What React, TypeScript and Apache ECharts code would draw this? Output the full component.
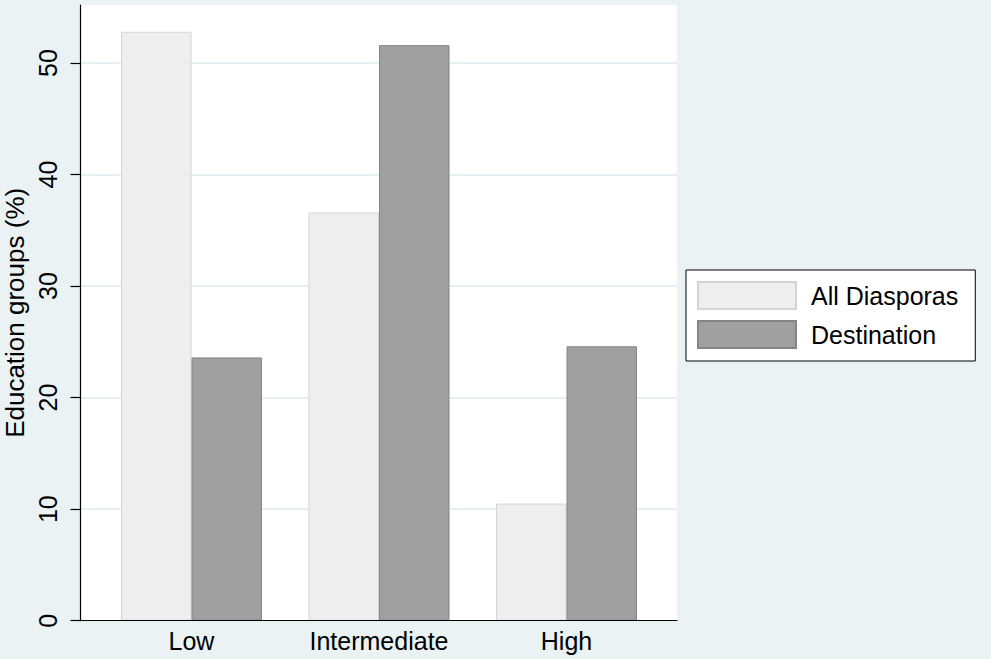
import React, { useEffect, useRef } from "react";
import * as echarts from "echarts";

const categories = ["Low", "Intermediate", "High"];
const allDiasporas = [52.8, 36.6, 10.5];
const destination = [23.6, 51.6, 24.6];
const yTicks = [0, 10, 20, 30, 40, 50];
const yMax = 55.2;
const seriesNames = ["All Diasporas", "Destination"];

const FONT = "'Liberation Sans', Arial, sans-serif";

export default function App() {
  const ref = useRef<HTMLDivElement>(null);
  useEffect(() => {
    if (!ref.current) return;
    const chart = echarts.init(ref.current, undefined, { renderer: "svg" });
    chart.setOption({
      animation: false,
      backgroundColor: "#eaf2f3",
      textStyle: { fontFamily: FONT },
      grid: [
        {
          left: 80.5,
          right: 314,
          top: 5,
          bottom: 38.3,
          show: true,
          backgroundColor: "#ffffff",
          borderWidth: 0,
          containLabel: false,
          outerBoundsMode: "none",
        },
        {
          left: 97.75,
          right: 330.75,
          top: 5,
          bottom: 38.3,
          containLabel: false,
          outerBoundsMode: "none",
        },
      ],
      xAxis: [
        {
          type: "category",
          gridIndex: 0,
          data: categories,
          z: 10,
          axisLine: { show: true, lineStyle: { color: "#000", width: 1.2 } },
          axisTick: { show: false },
          axisLabel: { show: false },
          splitLine: { show: false },
        },
        {
          type: "category",
          gridIndex: 1,
          data: categories,
          axisLine: { show: false },
          axisTick: { show: false },
          axisLabel: {
            show: true,
            color: "#000",
            fontSize: 25,
            fontFamily: FONT,
            margin: 8,
          },
        },
      ],
      yAxis: [
        {
          type: "value",
          gridIndex: 0,
          min: 0,
          max: yMax,
          interval: 10,
          name: "Education groups (%)",
          nameLocation: "middle",
          nameGap: 48,
          nameTextStyle: { fontSize: 26, color: "#000", fontFamily: FONT },
          axisLine: { show: true, lineStyle: { color: "#000", width: 1.2 } },
          axisTick: {
            show: true,
            length: 10,
            customValues: yTicks,
            lineStyle: { color: "#000", width: 1.2 },
          },
          axisLabel: {
            show: true,
            rotate: 90,
            customValues: yTicks,
            color: "#000",
            fontSize: 25,
            fontFamily: FONT,
            margin: 20,
          },
          splitLine: {
            show: true,
            lineStyle: { color: "#e6eff1", width: 2 },
          },
        },
        {
          type: "value",
          gridIndex: 1,
          min: 0,
          max: yMax,
          show: false,
          splitLine: { show: false },
        },
      ],
      legend: {
        left: 686,
        top: 270,
        orient: "vertical",
        data: seriesNames,
        backgroundColor: "#ffffff",
        borderColor: "#000",
        borderWidth: 1,
        padding: [11, 17, 12, 11],
        itemWidth: 98,
        itemHeight: 27,
        itemGap: 10,
        icon: "rect",
        textStyle: {
          fontSize: 25,
          color: "#000",
          fontFamily: FONT,
          padding: [0, 0, 0, 10],
        },
      },
      series: [
        {
          name: seriesNames[0],
          type: "bar",
          xAxisIndex: 1,
          yAxisIndex: 1,
          data: allDiasporas,
          barWidth: 70.5,
          barGap: "0%",
          itemStyle: { color: "#eeeeee", borderColor: "#d4d4d4", borderWidth: 1 },
        },
        {
          name: seriesNames[1],
          type: "bar",
          xAxisIndex: 1,
          yAxisIndex: 1,
          data: destination,
          barWidth: 70.5,
          barGap: "0%",
          itemStyle: { color: "#a0a0a0", borderColor: "#858585", borderWidth: 1 },
        },
      ],
    });
    return () => chart.dispose();
  }, []);
  return (
    <div
      ref={ref}
      style={{ position: "fixed", left: 0, top: 0, width: 991, height: 659 }}
    />
  );
}
